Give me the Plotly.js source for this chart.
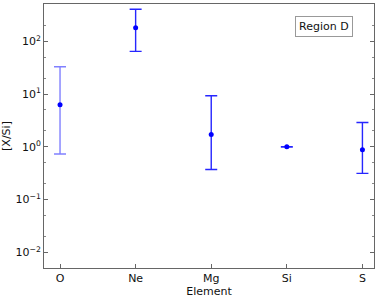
<!DOCTYPE html>
<html><head><meta charset="utf-8">
<script src="https://cdn.plot.ly/plotly-3.0.1.min.js"></script>
<style>html,body{margin:0;padding:0;background:#fff}#p{width:382px;height:298px}</style>
</head><body><div id="p"></div>
<script>
const elements = ["O", "Ne", "Mg", "Si", "S"];
const values = [6.3, 181, 1.72, 1.0, 0.877];
const upper = [33, 405, 9.3, 1.01, 2.9];
const lower = [0.73, 64.6, 0.372, 0.99, 0.313];
const yTickVals = [0.01, 0.1, 1, 10, 100];
const yTickText = ["10<sup>−2</sup>", "10<sup>−1</sup>", "10<sup>0</sup>", "10<sup>1</sup>", "10<sup>2</sup>"];
const regionLabel = "Region D";

const errColors = ["rgba(60,60,255,0.65)", "#2626ff", "#2626ff", "#2626ff", "#2626ff"];

const traces = elements.map((el, i) => ({
  type: "scatter", mode: "markers",
  x: [el], y: [values[i]],
  marker: {color: "#0000ff", size: 5},
  error_y: {type: "data", symmetric: false,
    array: [upper[i] - values[i]], arrayminus: [values[i] - lower[i]],
    color: errColors[i], thickness: 1.4, width: 6},
  showlegend: false, hoverinfo: "skip"
}));

const axisFont = {family: "DejaVu Sans, sans-serif", size: 11, color: "#111"};
const layout = {
  width: 382, height: 298,
  margin: {l: 44, r: 8, t: 4, b: 30},
  paper_bgcolor: "#fff", plot_bgcolor: "#fff",
  showlegend: false,
  xaxis: {type: "category", categoryorder: "array", categoryarray: elements,
    range: [-0.212, 4.153], showgrid: false, zeroline: false,
    showline: true, linecolor: "#666", linewidth: 1, mirror: true,
    ticks: "inside", ticklen: 4, tickcolor: "#666",
    tickfont: axisFont,
    title: {text: "Element", font: axisFont, standoff: 2}},
  yaxis: {type: "log", range: [-2.298, 2.708], showgrid: false, zeroline: false,
    showline: true, linecolor: "#666", linewidth: 1, mirror: "ticks",
    ticks: "inside", ticklen: 4, tickcolor: "#666",
    tickmode: "array", tickvals: yTickVals, ticktext: yTickText,
    tickfont: axisFont,
    minor: {ticks: "inside", ticklen: 2, tickcolor: "#888", showgrid: false},
    title: {text: "[X/Si]", font: axisFont, standoff: 4}},
  annotations: [{
    xref: "paper", yref: "paper", x: 0.935, y: 0.955,
    xanchor: "right", yanchor: "top",
    text: regionLabel, showarrow: false,
    font: {family: "DejaVu Sans, sans-serif", size: 11, color: "#111"},
    bordercolor: "#999", borderwidth: 1, borderpad: 3, bgcolor: "#fff"
  }]
};
Plotly.newPlot("p", traces, layout, {staticPlot: true, displayModeBar: false});
</script></body></html>
